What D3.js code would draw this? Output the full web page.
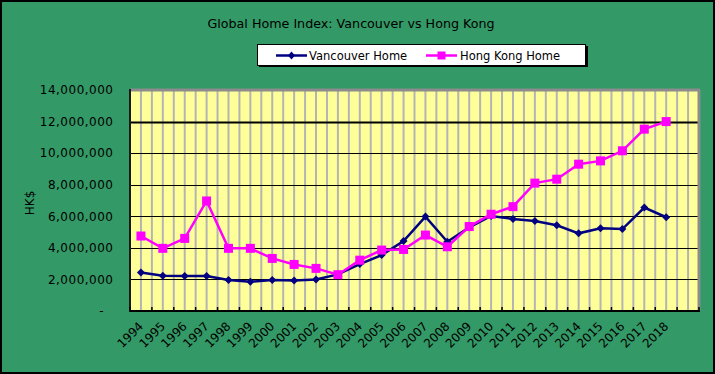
<!DOCTYPE html>
<html>
<head>
<meta charset="utf-8">
<script src="https://cdn.jsdelivr.net/npm/d3@7"></script>
<style>
  body { margin: 0; background: #339966; }
  svg { display: block; font-family: "DejaVu Sans", Verdana, sans-serif; }
</style>
</head>
<body>
<svg width="715" height="374"></svg>
<script>
var years = ["1994","1995","1996","1997","1998","1999","2000","2001","2002","2003","2004","2005","2006",
             "2007","2008","2009","2010","2011","2012","2013","2014","2015","2016","2017","2018"];
var vancouver = [2440000, 2230000, 2220000, 2210000, 1960000, 1850000, 1960000, 1940000, 2000000, 2320000,
                 2970000, 3540000, 4430000, 5980000, 4390000, 5300000, 6020000, 5830000, 5700000, 5430000,
                 4920000, 5240000, 5190000, 6550000, 5940000];
var hongKong = [4750000, 3970000, 4600000, 6970000, 3970000, 3970000, 3330000, 2950000, 2700000, 2300000,
                3220000, 3860000, 3900000, 4810000, 4070000, 5350000, 6130000, 6610000, 8100000, 8350000,
                9300000, 9510000, 10150000, 11520000, 12000000];
var yTicks = [0, 2000000, 4000000, 6000000, 8000000, 10000000, 12000000, 14000000];

var width = 715;
var height = 374;
var margin = {left: 130, right: 16, top: 90, bottom: 63};
var plotRight = width - margin.right;
var plotBottom = height - margin.bottom;

var svg = d3.select("svg");

// one empty slot after 2018, like the original
var x = d3.scaleBand().domain(d3.range(years.length + 1)).range([margin.left, plotRight]);
var y = d3.scaleLinear().domain([0, 14000000]).range([plotBottom, margin.top]);
var cx = function(d, i) { return x(i) + x.bandwidth() / 2; };

// outer frame
svg.append("rect").attr("x", 1).attr("y", 1).attr("width", width - 2).attr("height", height - 2)
  .attr("fill", "#339966").attr("stroke", "#000").attr("stroke-width", 2);

// title
svg.append("text").attr("x", 351).attr("y", 28).attr("text-anchor", "middle")
  .style("font-size", "12.7px").text("Global Home Index: Vancouver vs Hong Kong");

// plot area
svg.append("rect").attr("x", margin.left).attr("y", margin.top)
  .attr("width", plotRight - margin.left).attr("height", plotBottom - margin.top)
  .attr("fill", "#ffff99");

// vertical grey lines at every half category
var halfSteps = d3.range((years.length + 1) * 2 + 1);
svg.append("g").selectAll("line").data(halfSteps).enter().append("line")
  .attr("x1", function(k) { return margin.left + k * x.bandwidth() / 2; })
  .attr("x2", function(k) { return margin.left + k * x.bandwidth() / 2; })
  .attr("y1", margin.top).attr("y2", plotBottom)
  .attr("stroke", "#b4b4b4").attr("stroke-width", 2);

// horizontal gridlines
svg.append("g").selectAll("line").data(yTicks.slice(1, -1)).enter().append("line")
  .attr("x1", margin.left).attr("x2", plotRight)
  .attr("y1", function(d) { return Math.round(y(d)) + 0.5; })
  .attr("y2", function(d) { return Math.round(y(d)) + 0.5; })
  .attr("stroke", "#000").attr("stroke-width", function(d) { return d === 12000000 ? 2 : 1; });

// borders: grey top/right, black left/bottom
svg.append("line").attr("x1", margin.left).attr("x2", plotRight + 1).attr("y1", margin.top).attr("y2", margin.top)
  .attr("stroke", "#8c8c8c").attr("stroke-width", 3);
svg.append("line").attr("x1", plotRight).attr("x2", plotRight).attr("y1", margin.top).attr("y2", plotBottom)
  .attr("stroke", "#8c8c8c").attr("stroke-width", 3);
svg.append("line").attr("x1", margin.left).attr("x2", margin.left).attr("y1", margin.top - 1).attr("y2", plotBottom + 1)
  .attr("stroke", "#1a1a1a").attr("stroke-width", 2);
svg.append("line").attr("x1", margin.left).attr("x2", plotRight + 1).attr("y1", plotBottom).attr("y2", plotBottom)
  .attr("stroke", "#000").attr("stroke-width", 2);

// x tick marks at category boundaries (inside plot)
svg.append("g").selectAll("line").data(d3.range(years.length + 2)).enter().append("line")
  .attr("x1", function(i) { return margin.left + i * x.bandwidth(); })
  .attr("x2", function(i) { return margin.left + i * x.bandwidth(); })
  .attr("y1", plotBottom - 4).attr("y2", plotBottom)
  .attr("stroke", "#000").attr("stroke-width", 1.5);

// y axis labels
var axisLeft = d3.axisLeft(y).tickValues(yTicks).tickSize(0).tickPadding(17)
  .tickFormat(function(d) { return d === 0 ? "-" : d3.format(",")(d); });
var gy = svg.append("g").attr("transform", "translate(" + margin.left + ",0)").call(axisLeft);
gy.select(".domain").remove();
gy.selectAll("text").style("font-size", "12px").style("font-family", "DejaVu Sans, sans-serif")
  .style("letter-spacing", "0.5px").attr("fill", "#000")
  .attr("dx", function(d) { return d === 0 ? -9 : 0.5; });

// x axis labels
var axisBottom = d3.axisBottom(x).tickSize(0).tickFormat(function(i) { return years[i] || ""; });
var gx = svg.append("g").attr("transform", "translate(0," + plotBottom + ")").call(axisBottom);
gx.select(".domain").remove();
gx.selectAll("text").style("font-size", "12px").style("font-family", "DejaVu Sans, sans-serif").attr("fill", "#000")
  .attr("text-anchor", "end").attr("y", 0).attr("dy", 0)
  .attr("transform", "translate(3,16) rotate(-45)");

// y axis title
svg.append("text").attr("transform", "translate(34,203) rotate(-90)").attr("text-anchor", "middle")
  .style("font-size", "12px").text("HK$");

// series lines
var line = d3.line().x(cx).y(function(d) { return y(d); });
svg.append("path").datum(vancouver).attr("d", line).attr("fill", "none")
  .attr("stroke", "#000080").attr("stroke-width", 2.5);
svg.append("path").datum(hongKong).attr("d", line).attr("fill", "none")
  .attr("stroke", "#ff00ff").attr("stroke-width", 2.5);

// markers
svg.append("g").selectAll("path").data(vancouver).enter().append("path")
  .attr("transform", function(d, i) { return "translate(" + cx(d, i) + "," + y(d) + ")"; })
  .attr("d", "M0,-4L4,0L0,4L-4,0Z").attr("fill", "#000080");
svg.append("g").selectAll("rect").data(hongKong).enter().append("rect")
  .attr("x", function(d, i) { return cx(d, i) - 4.5; })
  .attr("y", function(d) { return y(d) - 4.5; })
  .attr("width", 9).attr("height", 9).attr("fill", "#ff00ff");

// legend
var legend = svg.append("g");
legend.append("rect").attr("x", 259).attr("y", 46).attr("width", 329).attr("height", 21).attr("fill", "#000");
legend.append("rect").attr("x", 257.5).attr("y", 44.5).attr("width", 328).attr("height", 21)
  .attr("fill", "#fff").attr("stroke", "#000").attr("stroke-width", 1);
legend.append("line").attr("x1", 276).attr("x2", 307).attr("y1", 55.5).attr("y2", 55.5)
  .attr("stroke", "#000080").attr("stroke-width", 2.5);
legend.append("path").attr("transform", "translate(291.5,55.5)").attr("d", "M0,-4L3.5,0L0,4L-3.5,0Z").attr("fill", "#000080");
legend.append("text").attr("x", 309).attr("y", 60).style("font-size", "11.5px").text("Vancouver Home");
legend.append("line").attr("x1", 426).attr("x2", 457).attr("y1", 55.5).attr("y2", 55.5)
  .attr("stroke", "#ff00ff").attr("stroke-width", 2.5);
legend.append("rect").attr("x", 437.5).attr("y", 51.5).attr("width", 8).attr("height", 8).attr("fill", "#ff00ff");
legend.append("text").attr("x", 460).attr("y", 60).style("font-size", "11.5px").text("Hong Kong Home");
</script>
</body>
</html>
